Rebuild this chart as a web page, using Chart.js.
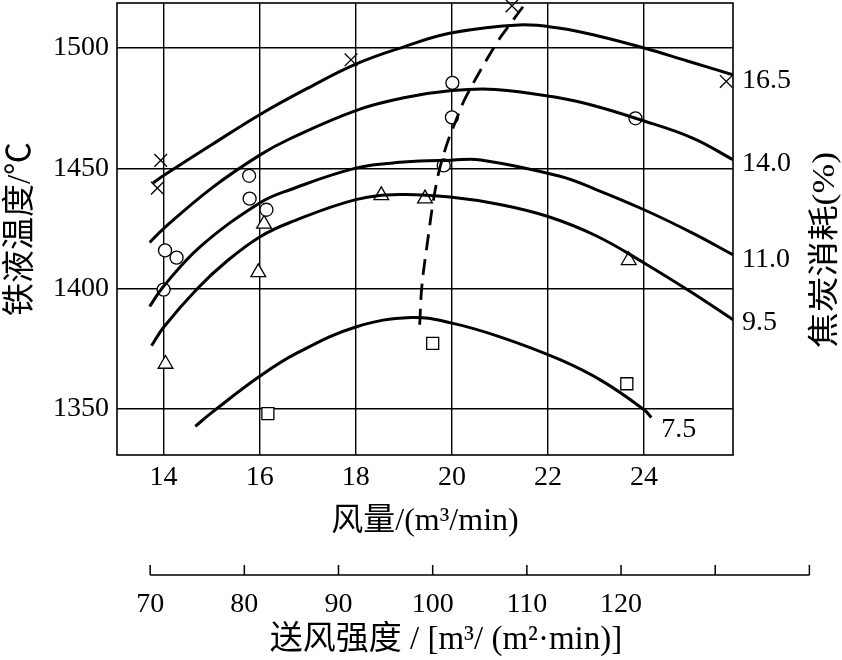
<!DOCTYPE html>
<html><head><meta charset="utf-8">
<script src="https://cdn.jsdelivr.net/npm/chart.js@4.4.1/dist/chart.umd.min.js"></script>
<style>html,body{margin:0;padding:0;background:#fff}canvas{display:block}</style>
</head><body>
<canvas id="c" width="842" height="660"></canvas>
<script>
// ---- data ----
const xTickValues = [14, 16, 18, 20, 22, 24];
const yTickValues = [1350, 1400, 1450, 1500];
const intensityTicks = [70, 80, 90, 100, 110, 120, 130, 140];
const intensityTickLabels = ['70', '80', '90', '100', '110', '120', '', ''];
const tuyereArea = 0.196; // m2 : airflow = intensity * area

const cokeLabels = ['16.5', '14.0', '11.0', '9.5', '7.5'];
const curve165 = [[13.78,1443.9],[14,1447],[15,1459.8],[16,1472.3],[17,1483.3],[18,1493.3],[19,1500.5],[20,1506.3],[21.4,1509.6],[22.25,1508.2],[23,1505.2],[24,1500],[24.9,1494.6],[25.85,1488.9]];
const curve140 = [[13.71,1419.2],[14,1425],[15,1441.8],[16,1455.5],[16.63,1462.3],[18,1474],[19,1479.3],[20,1482.3],[20.9,1482.8],[22.25,1479.2],[23,1475.8],[23.87,1470.5],[25.01,1462.6],[25.85,1453.6]];
const curve110 = [[13.71,1392.6],[14,1401],[14.77,1417.6],[16,1435.6],[16.63,1441.1],[18,1450.1],[19,1452.6],[20,1453.4],[20.6,1453.5],[22.25,1446.7],[23,1441.2],[24,1432.8],[25.01,1423.1],[25.85,1414.1]];
const curve95  = [[13.75,1376.3],[14,1384],[14.7,1400],[15.32,1411.5],[16,1421.5],[16.63,1427.5],[18,1437],[18.92,1439.1],[20,1438],[21,1435],[22,1430],[23,1422],[24,1410.7],[25.01,1398.2],[25.85,1387.1]];
const curve75  = [[14.66,1342.8],[15,1348.5],[16,1363.6],[16.78,1373.3],[18,1384.1],[19.15,1388],[20,1385.7],[21,1380],[22.25,1370.5],[23.14,1361.5],[24,1349.7],[24.15,1346.5]];
const optimumLine = [[19.33,1385],[19.37,1400],[19.47,1416.2],[19.68,1444],[19.88,1459.1],[20.09,1470.2],[20.3,1480],[20.93,1502],[21.2,1509.6],[21.48,1517.2]];

const crossPoints    = [[13.94,1453.3],[13.87,1441.8],[17.9,1495.1],[21.25,1517.5],[25.71,1486.1]];
const circlePoints   = [[15.78,1446.9],[15.79,1437.4],[16.14,1432.8],[14.03,1415.9],[14.27,1412.9],[14.0,1399.6],[20.01,1485.5],[20.0,1471.2],[19.83,1451.2],[23.82,1470.8]];
const trianglePoints = [[18.53,1438.8],[19.44,1437.4],[16.09,1426.9],[15.97,1406.8],[14.04,1368.7],[23.68,1411.8]];
const squarePoints   = [[16.17,1348.1],[19.6,1377.3],[23.64,1360.5]];

// ---- helpers ----
const toXY = arr => arr.map(p => ({x: p[0], y: p[1]}));
const SERIF = "'Liberation Serif', 'Noto Sans CJK SC', serif";
const curveDs = (data) => ({type:'line', data: toXY(data), borderColor:'#000', borderWidth:3, pointRadius:0, fill:false, tension:0.4});
const markerDs = (data, style, r) => ({type:'scatter', data: toXY(data), pointStyle: style, pointRadius: r, pointHoverRadius: r, borderColor:'#000', backgroundColor:'#fff', pointBorderWidth:1.3, borderWidth:1.3, showLine:false, clip:false});

const curves = [curve165, curve140, curve110, curve95, curve75];
const labelOffsets = [[9,6],[9,4],[9,5],[9,3],[10,12]];

const decorPlugin = {
  id: 'decor',
  beforeDatasetsDraw(chart) {
    const {ctx, chartArea: a} = chart;
    ctx.save();
    ctx.strokeStyle = '#000'; ctx.lineWidth = 1.6;
    ctx.strokeRect(a.left, a.top, a.right - a.left, a.bottom - a.top);
    ctx.restore();
  },
  afterDraw(chart) {
    const {ctx} = chart;
    const xs = chart.scales.x, ys = chart.scales.y;
    ctx.save();
    ctx.fillStyle = '#000'; ctx.strokeStyle = '#000';
    // curve labels
    ctx.font = "28px " + SERIF;
    ctx.textAlign = 'left'; ctx.textBaseline = 'middle';
    curves.forEach((c, i) => {
      const last = c[c.length - 1];
      const px = xs.getPixelForValue(last[0]), py = ys.getPixelForValue(last[1]);
      ctx.fillText(cokeLabels[i], px + labelOffsets[i][0], py + labelOffsets[i][1]);
    });
    // right title
    ctx.save();
    ctx.translate(826, 250);
    ctx.rotate(-Math.PI / 2);
    ctx.scale(1.15, 1);
    ctx.textAlign = 'center'; ctx.textBaseline = 'middle';
    ctx.font = "31px " + SERIF;
    ctx.fillText('焦炭消耗(%)', 0, 0);
    ctx.restore();
    // secondary axis: blast intensity
    const yAxis = 575;
    const px = v => xs.getPixelForValue(v * tuyereArea);
    ctx.lineWidth = 1.5;
    ctx.beginPath();
    ctx.moveTo(px(intensityTicks[0]), yAxis);
    ctx.lineTo(px(intensityTicks[intensityTicks.length - 1]), yAxis);
    intensityTicks.forEach(v => { ctx.moveTo(px(v), yAxis); ctx.lineTo(px(v), yAxis - 10); });
    ctx.stroke();
    ctx.font = "28px " + SERIF;
    ctx.textAlign = 'center'; ctx.textBaseline = 'middle';
    intensityTicks.forEach((v, i) => { if (intensityTickLabels[i]) ctx.fillText(intensityTickLabels[i], px(v), yAxis + 30); });
    ctx.font = "33px " + SERIF;
    ctx.fillText('送风强度 / [m³/ (m²·min)]', 446, 640);
    ctx.restore();
  }
};

new Chart(document.getElementById('c'), {
  data: {
    datasets: [
      curveDs(curve165), curveDs(curve140), curveDs(curve110), curveDs(curve95), curveDs(curve75),
      Object.assign(curveDs(optimumLine), {borderDash:[16,9], borderWidth:2.8}),
      markerDs(crossPoints, 'crossRot', 9),
      markerDs(circlePoints, 'circle', 6.5),
      markerDs(trianglePoints, 'triangle', 8.5),
      markerDs(squarePoints, 'rect', 8.5)
    ]
  },
  options: {
    responsive: false, animation: false, events: [],
    layout: {autoPadding: false, padding: {left: 0, right: 109, top: 3, bottom: 119}},
    plugins: {legend: {display: false}, tooltip: {enabled: false}},
    scales: {
      x: {
        type: 'linear', position: 'bottom', min: 13.03, max: 25.85,
        afterBuildTicks: s => { s.ticks = xTickValues.map(v => ({value: v})); },
        afterFit: s => { s.height = 86; s.paddingLeft = 0; s.paddingRight = 0; },
        grid: {color: '#000', lineWidth: 1.4, drawTicks: false},
        border: {display: false},
        ticks: {color: '#000', font: {family: SERIF, size: 28}, padding: 6, maxRotation: 0, callback: v => String(v)},
        title: {display: true, text: '风量/(m³/min)', color: '#000', font: {family: SERIF, size: 32}, padding: 0}
      },
      y: {
        type: 'linear', position: 'left', min: 1330.9, max: 1518.7,
        afterBuildTicks: s => { s.ticks = yTickValues.map(v => ({value: v})); },
        afterFit: s => { s.width = 117; s.paddingTop = 0; s.paddingBottom = 0; },
        grid: {color: '#000', lineWidth: 1.4, drawTicks: false},
        border: {display: false},
        ticks: {color: '#000', font: {family: SERIF, size: 28}, padding: 8, callback: v => String(v)},
        title: {display: true, text: '铁液温度/℃', color: '#000', font: {family: SERIF, size: 33}, padding: 2}
      }
    }
  },
  plugins: [decorPlugin]
});
</script>
</body></html>
